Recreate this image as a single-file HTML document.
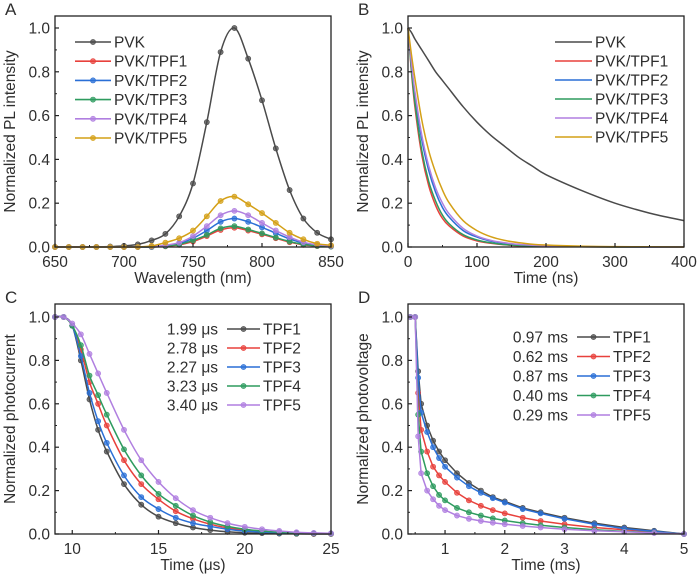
<!DOCTYPE html>
<html><head><meta charset="utf-8">
<style>
html,body{margin:0;padding:0;background:#fff;}
svg{display:block;font-family:"Liberation Sans",Arial,sans-serif;}
</style></head>
<body>
<svg id="fig" width="700" height="576" viewBox="0 0 700 576"></svg>
<script>
// ---------- DATA ----------
const aWavelengths=[650,660,670,680,690,700,710,720,730,740,750,760,770,780,790,800,810,820,830,840,850];
const aPVK =[0,0,0,0,0.002,0.005,0.012,0.03,0.06,0.14,0.29,0.57,0.89,1.0,0.86,0.67,0.45,0.26,0.13,0.065,0.035];
const aTPF1=[0,0,0,0,0,0,0,0,0.003,0.01,0.025,0.05,0.078,0.088,0.075,0.058,0.04,0.022,0.01,0.004,0.002];
const aTPF2=[0,0,0,0,0,0,0,0,0.005,0.015,0.04,0.075,0.115,0.13,0.115,0.09,0.063,0.037,0.018,0.008,0.004];
const aTPF3=[0,0,0,0,0,0,0,0,0.004,0.012,0.03,0.055,0.085,0.095,0.08,0.062,0.043,0.025,0.012,0.005,0.002];
const aTPF4=[0,0,0,0,0,0,0,0.002,0.008,0.02,0.05,0.095,0.145,0.165,0.145,0.11,0.075,0.045,0.022,0.01,0.005];
const aTPF5=[0,0,0,0,0,0,0,0.005,0.02,0.04,0.075,0.14,0.21,0.23,0.195,0.155,0.11,0.065,0.035,0.015,0.008];

const bTimes=[0,5,10,20,30,40,50,60,80,100,120,140,160,180,200,250,300,350,400];
const bPVK =[1,0.98,0.95,0.9,0.85,0.8,0.76,0.72,0.64,0.57,0.51,0.46,0.41,0.37,0.33,0.26,0.2,0.155,0.12];
const bTPF1=[1,0.8,0.64,0.42,0.28,0.19,0.13,0.095,0.05,0.028,0.017,0.01,0.006,0.004,0.003,0.001,0,0,0];
const bTPF2=[1,0.83,0.69,0.49,0.35,0.25,0.18,0.135,0.075,0.045,0.027,0.017,0.011,0.007,0.005,0.002,0.001,0,0];
const bTPF3=[1,0.81,0.66,0.44,0.3,0.21,0.145,0.105,0.056,0.032,0.019,0.011,0.007,0.005,0.003,0.001,0,0,0];
const bTPF4=[1,0.84,0.71,0.51,0.37,0.27,0.2,0.15,0.085,0.05,0.03,0.019,0.012,0.008,0.005,0.002,0.001,0,0];
const bTPF5=[1,0.88,0.77,0.58,0.44,0.34,0.26,0.2,0.12,0.075,0.047,0.03,0.02,0.013,0.009,0.004,0.002,0.001,0];

const cTimes=[9,9.5,10,10.5,11,11.5,12,13,14,15,16,17,18,19,20,21,22,23,24,25];
const cTPF1=[1,1,0.96,0.8,0.62,0.48,0.38,0.23,0.135,0.08,0.05,0.03,0.018,0.01,0.006,0.004,0.002,0.001,0,0];
const cTPF2=[1,1,0.96,0.85,0.7,0.6,0.5,0.34,0.23,0.16,0.105,0.07,0.045,0.028,0.018,0.011,0.007,0.004,0.002,0.001];
const cTPF3=[1,1,0.96,0.82,0.65,0.52,0.42,0.27,0.17,0.115,0.075,0.05,0.035,0.022,0.014,0.009,0.006,0.004,0.003,0.002];
const cTPF4=[1,1,0.96,0.87,0.73,0.64,0.55,0.39,0.27,0.185,0.13,0.085,0.055,0.035,0.022,0.014,0.008,0.005,0.003,0.002];
const cTPF5=[1,1,0.97,0.92,0.83,0.74,0.65,0.48,0.34,0.24,0.165,0.11,0.075,0.05,0.033,0.022,0.014,0.008,0.005,0.003];
const cLifetimes=["1.99 μs","2.78 μs","2.27 μs","3.23 μs","3.40 μs"];

const dTimes=[0.42,0.5,0.55,0.6,0.7,0.8,0.9,1.0,1.2,1.4,1.6,1.8,2.0,2.3,2.6,3.0,3.5,4.0,4.5,5.0];
const dTPF1=[1,1,0.75,0.6,0.5,0.43,0.38,0.34,0.28,0.235,0.2,0.17,0.15,0.12,0.1,0.075,0.05,0.03,0.015,0];
const dTPF2=[1,1,0.65,0.48,0.38,0.31,0.27,0.24,0.19,0.155,0.13,0.11,0.095,0.075,0.06,0.045,0.03,0.02,0.01,0];
const dTPF3=[1,1,0.72,0.56,0.47,0.4,0.35,0.31,0.26,0.22,0.19,0.165,0.145,0.115,0.095,0.07,0.045,0.025,0.012,0];
const dTPF4=[1,1,0.55,0.38,0.28,0.22,0.18,0.155,0.12,0.1,0.085,0.072,0.062,0.05,0.04,0.03,0.02,0.012,0.006,0];
const dTPF5=[1,1,0.45,0.28,0.2,0.16,0.13,0.11,0.085,0.07,0.06,0.052,0.045,0.037,0.03,0.022,0.015,0.01,0.005,0];
const dLifetimes=["0.97 ms","0.62 ms","0.87 ms","0.40 ms","0.29 ms"];

const yTickLabels=["0.0","0.2","0.4","0.6","0.8","1.0"];
const aXTicks=[650,700,750,800,850];
const bXTicks=[0,100,200,300,400];
const cXTicks=[10,15,20,25];
const dXTicks=[1,2,3,4,5];

// ---------- DRAWING ----------
const NS="http://www.w3.org/2000/svg";
const svg=document.getElementById('fig');
function mk(tag,attrs,parent){const e=document.createElementNS(NS,tag);for(const k in attrs)e.setAttribute(k,attrs[k]);(parent||svg).appendChild(e);return e;}
const COL={k:"#4a4a4a",r:"#e8413c",b:"#2a6fd6",g:"#2e9b5f",p:"#b07fe0",o:"#d4a017"};
const FS=15.5, TXT='#2e2e2e';

function smoothPath(pts){
  let d='M'+pts[0][0].toFixed(1)+','+pts[0][1].toFixed(1);
  for(let i=0;i<pts.length-1;i++){
    const p0=pts[Math.max(0,i-1)],p1=pts[i],p2=pts[i+1],p3=pts[Math.min(pts.length-1,i+2)];
    const c1x=p1[0]+(p2[0]-p0[0])/6,c1y=p1[1]+(p2[1]-p0[1])/6;
    const c2x=p2[0]-(p3[0]-p1[0])/6,c2y=p2[1]-(p3[1]-p1[1])/6;
    d+='C'+c1x.toFixed(1)+','+c1y.toFixed(1)+' '+c2x.toFixed(1)+','+c2y.toFixed(1)+' '+p2[0].toFixed(1)+','+p2[1].toFixed(1);
  }
  return d;
}

function panel(o){
  const g=mk('g',{});
  
  
  const X=v=>o.x0+(v-o.xmin)/(o.xmax-o.xmin)*(o.x1-o.x0);
  const Y=v=>o.yb+(o.yt-o.yb)*v;
  const lt=mk('text',{x:o.x0-50,y:o.top-1,'font-size':17,fill:TXT},g);lt.textContent=o.letter;
  
  o.series.forEach((s,si)=>{
    const sg=mk('g',{},g);
    
    
    const pts=s.ys.map((v,i)=>[X(o.xs[i]),Y(v)]);
    const d=o.smooth?smoothPath(pts):pts.map((p,i)=>(i?'L':'M')+p[0].toFixed(1)+','+p[1].toFixed(1)).join('');
    mk('path',{d:d,fill:'none',stroke:s.c,'stroke-width':1.5},sg);
    if(o.markers) pts.forEach(p=>{mk('circle',{cx:p[0],cy:p[1],r:2.6,fill:s.c,'fill-opacity':0.75,stroke:s.c,'stroke-width':0.6},sg);});
  });
  const fr=mk('rect',{x:o.x0,y:o.top,width:o.x1-o.x0,height:o.yb-o.top,fill:'none',stroke:'#222','stroke-width':1.3},g);
  
  yTickLabels.forEach((lab,i)=>{
    const v=i*0.2,y=Y(v);
    mk('line',{x1:o.x0,x2:o.x0+4,y1:y,y2:y,stroke:'#222','stroke-width':1.2},g);
    if(i<5){const ym=Y(v+0.1);mk('line',{x1:o.x0,x2:o.x0+2,y1:ym,y2:ym,stroke:'#222','stroke-width':1},g);}
    const t=mk('text',{x:o.x0-5,y:y+5.5,'font-size':FS,'text-anchor':'end',fill:TXT},g);t.textContent=lab;
    
  });
  o.xticks.forEach(v=>{
    const x=X(v);
    mk('line',{x1:x,x2:x,y1:o.yb,y2:o.yb-4,stroke:'#222','stroke-width':1.2},g);
    const t=mk('text',{x:x,y:o.yb+20,'font-size':FS,'text-anchor':'middle',fill:TXT},g);t.textContent=String(v);
    
  });
  o.minor.forEach(v=>{const x=X(v);mk('line',{x1:x,x2:x,y1:o.yb,y2:o.yb-2,stroke:'#222','stroke-width':1},g);});
  const xt=mk('text',{x:(o.x0+o.x1)/2,y:o.yb+36,'font-size':FS,'text-anchor':'middle',fill:TXT},g);xt.textContent=o.xtitle;
  
  const cy=(o.top+o.yb)/2;
  const yt=mk('text',{x:0,y:0,'font-size':FS,'text-anchor':'middle',fill:TXT,transform:`translate(${o.x0-40},${cy}) rotate(-90)`},g);yt.textContent=o.ytitle;
  
  const lg=mk('g',{},g);
  
  o.series.forEach((s,i)=>{
    const y=o.leg.y+i*o.leg.dy;
    const e=mk('g',{},lg);
    
    mk('line',{x1:o.leg.x,x2:o.leg.x+o.leg.w,y1:y,y2:y,stroke:s.c,'stroke-width':1.6},e);
    if(o.markers) mk('circle',{cx:o.leg.x+o.leg.w/2,cy:y,r:2.6,fill:s.c,'fill-opacity':0.75,stroke:s.c,'stroke-width':0.6},e);
    const t=mk('text',{x:o.leg.x+o.leg.w+3,y:y+5.5,'font-size':FS,fill:TXT},e);t.textContent=s.label;
    if(o.leg.pre){const p=mk('text',{x:o.leg.x-9,y:y+5.5,'font-size':FS,fill:TXT,'text-anchor':'end'},e);p.textContent=o.leg.pre[i];}
  });
}
function range(a,b,s){const r=[];for(let v=a;v<=b+1e-9;v+=s)r.push(+v.toFixed(3));return r;}

panel({name:'panel-a-pl-spectra',letter:'A',x0:55,x1:331,top:16,yb:247,yt:28,xmin:650,xmax:850,xs:aWavelengths,markers:true,smooth:true,
  xticks:aXTicks,minor:range(675,825,50),xtitle:'Wavelength (nm)',ytitle:'Normalized PL intensity',
  leg:{x:75,w:36,y:42,dy:19.2},
  series:[{label:'PVK',ys:aPVK,c:COL.k},{label:'PVK/TPF1',ys:aTPF1,c:COL.r},{label:'PVK/TPF2',ys:aTPF2,c:COL.b},{label:'PVK/TPF3',ys:aTPF3,c:COL.g},{label:'PVK/TPF4',ys:aTPF4,c:COL.p},{label:'PVK/TPF5',ys:aTPF5,c:COL.o}]});
panel({name:'panel-b-trpl',letter:'B',x0:408,x1:684,top:16,yb:247,yt:28,xmin:0,xmax:400,xs:bTimes,markers:false,smooth:true,
  xticks:bXTicks,minor:range(50,350,100),xtitle:'Time (ns)',ytitle:'Normalized PL intensity',
  leg:{x:555,w:37,y:42,dy:19},
  series:[{label:'PVK',ys:bPVK,c:COL.k},{label:'PVK/TPF1',ys:bTPF1,c:COL.r},{label:'PVK/TPF2',ys:bTPF2,c:COL.b},{label:'PVK/TPF3',ys:bTPF3,c:COL.g},{label:'PVK/TPF4',ys:bTPF4,c:COL.p},{label:'PVK/TPF5',ys:bTPF5,c:COL.o}]});
panel({name:'panel-c-photocurrent',letter:'C',x0:55,x1:331,top:304,yb:534,yt:317,xmin:9,xmax:25,xs:cTimes,markers:true,smooth:true,
  xticks:cXTicks,minor:range(12.5,22.5,5),xtitle:'Time (μs)',ytitle:'Normalized photocurrent',
  leg:{x:227,w:33,y:329,dy:19,pre:cLifetimes},
  series:[{label:'TPF1',ys:cTPF1,c:COL.k},{label:'TPF2',ys:cTPF2,c:COL.r},{label:'TPF3',ys:cTPF3,c:COL.b},{label:'TPF4',ys:cTPF4,c:COL.g},{label:'TPF5',ys:cTPF5,c:COL.p}]});
panel({name:'panel-d-photovoltage',letter:'D',x0:408,x1:684,top:304,yb:534,yt:317,xmin:0.38,xmax:5,xs:dTimes,markers:true,smooth:false,
  xticks:dXTicks,minor:range(0.5,4.5,1),xtitle:'Time (ms)',ytitle:'Normalized photovoltage',
  leg:{x:577,w:33,y:337,dy:19.5,pre:dLifetimes},
  series:[{label:'TPF1',ys:dTPF1,c:COL.k},{label:'TPF2',ys:dTPF2,c:COL.r},{label:'TPF3',ys:dTPF3,c:COL.b},{label:'TPF4',ys:dTPF4,c:COL.g},{label:'TPF5',ys:dTPF5,c:COL.p}]});
</script>
</body></html>
